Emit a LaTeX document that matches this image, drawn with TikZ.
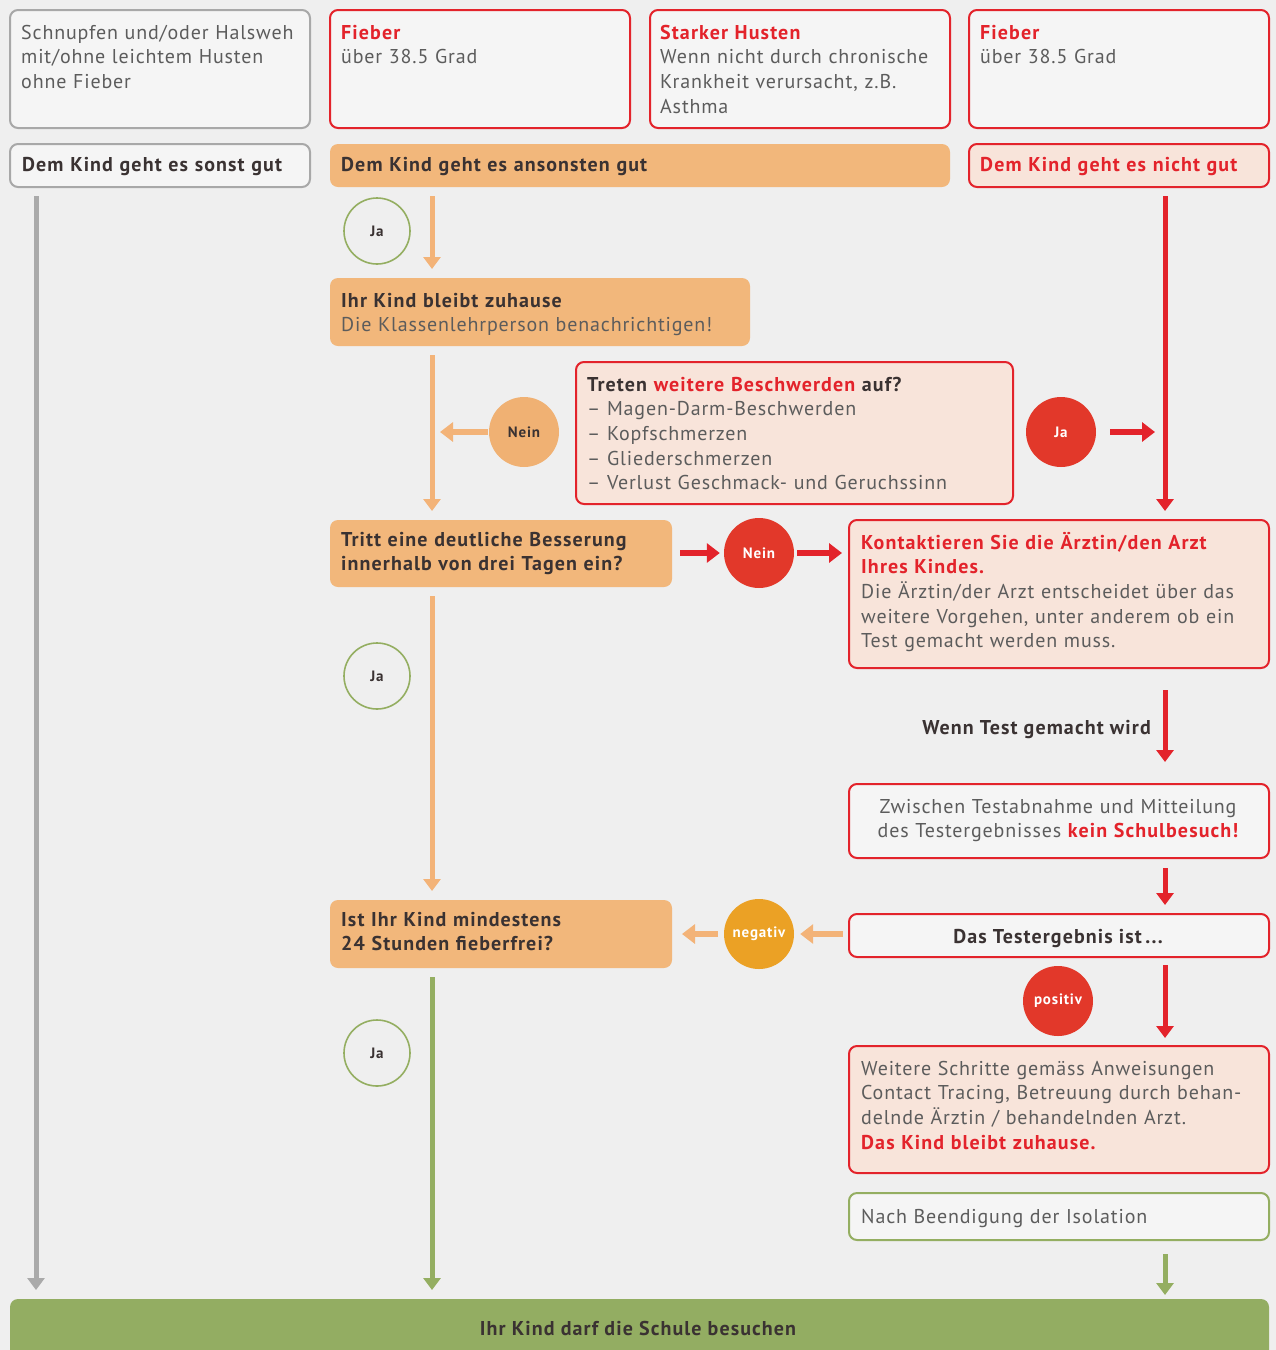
\documentclass[tikz,border=0pt]{standalone}
\usepackage{fontspec}
\setmainfont{PT Sans}[LetterSpace=4.2, BoldFeatures={LetterSpace=5.5}]
\usetikzlibrary{arrows.meta,calc}
\definecolor{bgc}{HTML}{EFEFEF}
\definecolor{rd}{HTML}{E3232B}
\definecolor{pinkf}{HTML}{F8E4DA}
\definecolor{orf}{HTML}{F2B77B}
\definecolor{orl}{HTML}{F3B378}
\definecolor{orc}{HTML}{F0B173}
\definecolor{negc}{HTML}{EBA125}
\definecolor{grn}{HTML}{94AE61}
\definecolor{grnbar}{HTML}{93AD62}
\definecolor{gryl}{HTML}{AAAAAA}
\definecolor{gryb}{HTML}{A8A8A8}
\definecolor{wf}{HTML}{F5F5F5}
\definecolor{dk}{HTML}{3A3232}
\definecolor{tg}{HTML}{5C5C5C}
\definecolor{rcirc}{HTML}{E2382A}
\newcommand\fbody{\fontsize{20pt}{24.7pt}\selectfont}
\newcommand\fcirc{\fontsize{15pt}{16pt}\selectfont\bfseries}
\begin{document}
\begin{tikzpicture}[x=1pt,y=-1pt,
  box/.style={draw, rounded corners=8pt, line width=2pt, anchor=north west, inner sep=0pt},
  graybox/.style={box, draw=gryb, fill=wf},
  redbox/.style={box, draw=rd, fill=pinkf},
  redwbox/.style={box, draw=rd, fill=wf},
  obox/.style={box, draw=none, fill=orf},
  grnbox/.style={box, draw=grn, fill=wf},
  txt/.style={anchor=base west, inner sep=0pt, text width=#1, align=left, font=\fbody},
  ctxt/.style={anchor=base, inner sep=0pt, text width=#1, align=center, font=\fbody},
  circ/.style={circle, inner sep=0pt, minimum size=70pt, font=\fcirc},
  jacirc/.style={circle, inner sep=0pt, minimum size=66pt, draw=grn, line width=1.6pt, font=\fcirc, text=dk},
  vline/.style={line width=5pt, -{Triangle[width=17pt,length=12pt]}, shorten <=8pt, shorten >=8pt},
  harrow/.style={line width=6pt, -{Triangle[width=19pt,length=13pt]}}
]
\useasboundingbox (0,0) rectangle (1276,1350);
\clip (0,0) rectangle (1276,1350);
\fill[bgc] (0,0) rectangle (1276,1350);

% columns
\coordinate (colG) at (36,0);
\coordinate (colO) at (432,0);
\coordinate (colR) at (1165,0);

% top row
\node[graybox, minimum width=300pt, minimum height=118pt] (b1) at (9,9) {};
\node[redwbox, minimum width=300pt, minimum height=118pt] (b2) at (329,9) {};
\node[redwbox, minimum width=300pt, minimum height=118pt] (b3) at (649,9) {};
\node[redwbox, minimum width=300pt, minimum height=118pt] (b4) at (968,9) {};
\node[txt=295pt, text=tg] (t1) at (21,39) {Schnupfen und/oder Halsweh\\mit/ohne leichtem Husten\\ohne Fieber};
\node[txt=295pt, text=tg] (t2) at (341,39) {\textcolor{rd}{\bfseries Fieber}\\über 38.5 Grad};
\node[txt=295pt, text=tg] (t3) at (660,39) {\textcolor{rd}{\bfseries Starker Husten}\\Wenn nicht durch chronische\\Krankheit verursacht, z.B.\\Asthma};
\node[txt=295pt, text=tg] (t4) at (980,39) {\textcolor{rd}{\bfseries Fieber}\\über 38.5 Grad};

% second row
\node[graybox, minimum width=300pt, minimum height=43pt] (bsonst) at (9,143) {};
\node[obox, minimum width=620pt, minimum height=43pt] (bans) at (329,143) {};
\node[redbox, minimum width=300pt, minimum height=43pt] (bnicht) at (968,143) {};
\node[txt=298pt, text=dk, font=\fbody\bfseries] (t5) at (22,171) {Dem Kind geht es sonst gut};
\node[txt=590pt, text=dk, font=\fbody\bfseries] (t6) at (341,171) {Dem Kind geht es ansonsten gut};
\node[txt=298pt, text=rd, font=\fbody\bfseries] (t7) at (980,171) {Dem Kind geht es nicht gut};

% orange column
\node[obox, minimum width=420pt, minimum height=68pt] (bzu) at (329,277) {};
\node[txt=415pt, text=tg] (t8) at (341,307) {\textcolor{dk}{\bfseries Ihr Kind bleibt zuhause}\\Die Klassenlehrperson benachrichtigen!};
\node[jacirc] (ja1) at (377,231) {Ja};

\node[redbox, minimum width=437pt, minimum height=142pt] (btreten) at (575,361) {};
\node[txt=430pt, text=tg] (t9) at (587,391) {\textcolor{dk}{\bfseries Treten \textcolor{rd}{weitere Beschwerden} auf?}\\– Magen-Darm-Beschwerden\\– Kopfschmerzen\\– Gliederschmerzen\\– Verlust Geschmack- und Geruchssinn};
\node[circ, fill=orc, text=dk] (nein1) at (524,432) {Nein};
\node[circ, fill=rcirc, text=white] (ja2) at (1061,432) {Ja};

\node[obox, minimum width=342pt, minimum height=67pt] (btritt) at (329,519) {};
\node[txt=335pt, text=dk, font=\fbody\bfseries] (t10) at (341,546) {Tritt eine deutliche Besserung\\innerhalb von drei Tagen ein?};
\node[circ, fill=rcirc, text=white] (nein2) at (759,553) {Nein};

\node[redbox, minimum width=420pt, minimum height=148pt] (bkont) at (848,519) {};
\node[txt=415pt, text=tg] (t11) at (861,549) {\textcolor{rd}{\bfseries Kontaktieren Sie die Ärztin/den Arzt}\\\textcolor{rd}{\bfseries Ihres Kindes.}\\Die Ärztin/der Arzt entscheidet über das\\weitere Vorgehen, unter anderem ob ein\\Test gemacht werden muss.};

\node[jacirc] (ja3) at (377,676) {Ja};

\node[anchor=base east, inner sep=0pt, font=\fbody\bfseries, text=dk] (twenn) at (1151,734) {Wenn Test gemacht wird};

\node[redwbox, minimum width=420pt, minimum height=74pt] (bzw) at (848,783) {};
\node[ctxt=418pt, text=tg] (t12) at (1058,813) {Zwischen Testabnahme und Mitteilung\\des Testergebnisses \textcolor{rd}{\bfseries kein Schulbesuch!}};

\node[obox, minimum width=342pt, minimum height=68pt] (bist) at (329,899) {};
\node[txt=335pt, text=dk, font=\fbody\bfseries] (t13) at (341,926) {Ist Ihr Kind mindestens\\24 Stunden fieberfrei?};
\node[circ, fill=negc, text=white] (neg) at (759,934) {negativ};

\node[redwbox, minimum width=420pt, minimum height=43pt] (bdas) at (848,913) {};
\node[anchor=base, inner sep=0pt, font=\fbody\bfseries, text=dk] (t14) at (1058,943) {Das Testergebnis ist\,...};

\node[redbox, minimum width=420pt, minimum height=127pt] (bweit) at (848,1045) {};
\node[txt=418pt, text=tg] (t15) at (861,1075) {Weitere Schritte gemäss Anweisungen\\Contact Tracing, Betreuung durch behan-\\delnde Ärztin / behandelnden Arzt.\\\textcolor{rd}{\bfseries Das Kind bleibt zuhause.}};

\node[grnbox, minimum width=420pt, minimum height=47pt] (bnach) at (848,1192) {};
\node[txt=400pt, text=tg] (t16) at (861,1223) {Nach Beendigung der Isolation};

\node[jacirc] (ja4) at (377,1053) {Ja};

% bottom bar
\node[box, draw=none, fill=grnbar, minimum width=1259pt, minimum height=80pt] (bar) at (9,1298) {};
\node[anchor=base, inner sep=0pt, font=\fbody\bfseries, text=dk] (t17) at (638,1335) {Ihr Kind darf die Schule besuchen};

% connectors
\draw[vline, gryl] (bsonst.south -| colG) -- (bar.north -| colG);
\draw[vline, orl] (bans.south -| colO) -- (bzu.north -| colO);
\draw[vline, orl] (bzu.south -| colO) -- (btritt.north -| colO);
\draw[harrow, orl, shorten <=1pt, shorten >=8pt] (nein1.west) -- (nein1.west -| colO);
\draw[vline, rd] (bnicht.south -| colR) -- (bkont.north -| colR);
\draw[harrow, rd, shorten <=14pt, shorten >=10pt] (ja2.east) -- (ja2.east -| colR);
\draw[harrow, rd, shorten <=7pt, shorten >=4pt] (btritt.east |- nein2) -- (nein2.west);
\draw[harrow, rd, shorten <=3pt, shorten >=6pt] (nein2.east) -- (nein2 -| bkont.west);
\draw[vline, orl] (btritt.south -| colO) -- (bist.north -| colO);
\draw[vline, rd, shorten <=21pt, shorten >=21pt] (bkont.south -| colR) -- (bzw.north -| colR);
\draw[vline, rd, shorten <=9pt, shorten >=8pt] (bzw.south -| colR) -- (bdas.north -| colR);
\draw[harrow, orl, shorten <=5pt, shorten >=6pt] (neg -| bdas.west) -- (neg.east);
\draw[harrow, orl, shorten <=6pt, shorten >=9pt] (neg.west) -- (neg -| bist.east);
\draw[vline, rd, shorten <=7pt, shorten >=7pt] (bdas.south -| colR) -- (bweit.north -| colR);
\node[circ, fill=rcirc, text=white] (pos) at (1058,1001) {positiv};
\draw[vline, grn] (bist.south -| colO) -- (bar.north -| colO);
\draw[vline, grn, shorten <=13pt, shorten >=3pt] (bnach.south -| colR) -- (bar.north -| colR);
\end{tikzpicture}
\end{document}
